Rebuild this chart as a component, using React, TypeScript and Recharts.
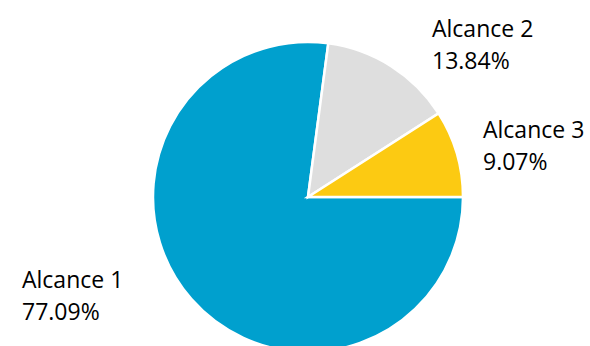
import { Cell, Pie, PieChart } from "recharts";

const SCOPES = ["Alcance 1", "Alcance 2", "Alcance 3"];
const SHARES = [77.09, 13.84, 9.07];
const COLORS = ["#00A0CE", "#DEDEDE", "#FCCA12"];

// where each label's first line starts, relative to the pie centre
const LABEL_OFFSETS = [
  { dx: -286, dy: 91 },
  { dx: 124, dy: -160 },
  { dx: 175, dy: -59 },
];

const data = SCOPES.map((name, i) => ({ name, value: SHARES[i] }));

type LabelProps = { cx: number; cy: number; index: number; name: string; value: number };

function renderLabel({ cx, cy, index, name, value }: LabelProps) {
  const off = LABEL_OFFSETS[index];
  const x = cx + off.dx;
  const y = cy + off.dy;
  return (
    <text
      key={name}
      x={x}
      y={y}
      fill="#000"
      fontSize={23}
      fontFamily="'Open Sans', 'Noto Sans', sans-serif"
      textAnchor="start"
    >
      <tspan x={x} y={y}>{name}</tspan>
      <tspan x={x} y={y + 32}>{`${value.toFixed(2)}%`}</tspan>
    </text>
  );
}

export default function App() {
  return (
    <div style={{ position: "absolute", left: 0, top: 0, width: 590, height: 346, background: "#fff" }}>
      <PieChart width={590} height={346} margin={{ top: 0, right: 0, bottom: 0, left: 0 }}>
        <Pie
          data={data}
          dataKey="value"
          nameKey="name"
          cx={308}
          cy={197}
          outerRadius={155}
          startAngle={0}
          endAngle={-360}
          stroke="#fff"
          strokeWidth={2.5}
          label={renderLabel}
          labelLine={false}
          isAnimationActive={false}
        >
          {data.map((d, i) => (
            <Cell key={d.name} fill={COLORS[i]} />
          ))}
        </Pie>
      </PieChart>
    </div>
  );
}
